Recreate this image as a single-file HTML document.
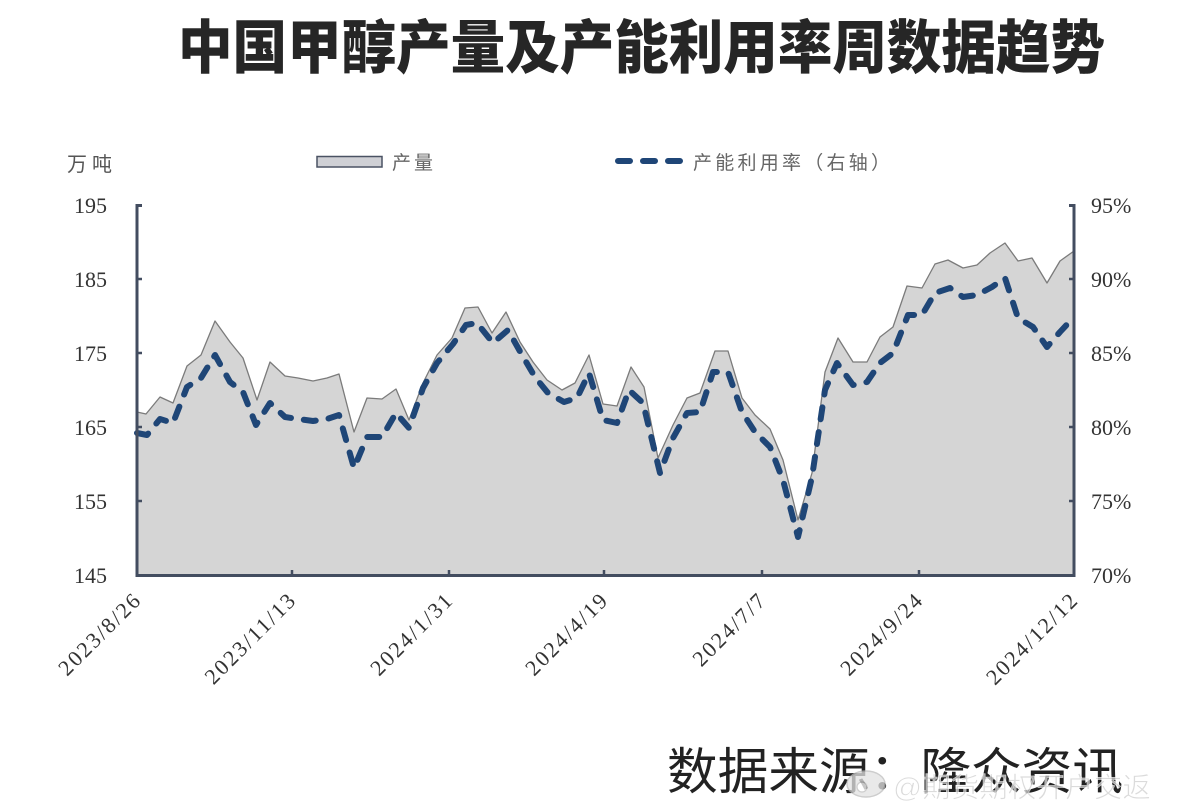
<!DOCTYPE html>
<html>
<head>
<meta charset="utf-8">
<style>
  html, body { margin: 0; padding: 0; background: #ffffff; }
  svg { display: block; }
  .cjk { font-family: "Liberation Sans", "Noto Sans CJK SC", sans-serif; }
  .num { font-family: "Liberation Serif", "Noto Serif CJK SC", serif; }
</style>
</head>
<body>
<svg width="1179" height="812" viewBox="0 0 1179 812" xmlns="http://www.w3.org/2000/svg">
  <rect x="0" y="0" width="1179" height="812" fill="#ffffff"/>

  <!-- Title -->
  <text x="178" y="68" class="cjk" font-size="58" font-weight="900" fill="#262626" textLength="927" lengthAdjust="spacingAndGlyphs">中国甲醇产量及产能利用率周数据趋势</text>

  <!-- Unit label -->
  <text x="67" y="171" class="cjk" font-size="20" fill="#555" textLength="45" lengthAdjust="spacing">万吨</text>

  <!-- Legend -->
  <rect x="317" y="156.5" width="65" height="10.5" fill="#cfd0d5" stroke="#4a5263" stroke-width="1.5"/>
  <text x="392" y="169" class="cjk" font-size="19" fill="#666" textLength="41" lengthAdjust="spacing">产量</text>
  <line x1="618" y1="161" x2="683" y2="161" stroke="#1f4677" stroke-width="6" stroke-linecap="round" stroke-dasharray="12 13"/>
  <text x="693" y="169" class="cjk" font-size="19" fill="#666" textLength="197" lengthAdjust="spacing">产能利用率（右轴）</text>

  <!-- Area series -->
  <path d="M137,575 L137,412 L146,414 L160,397 L173,403 L187,366 L201,355 L215,321 L230,342 L243,358 L257,400 L270,362 L285,376 L298,378 L313,381 L327,378 L339,374 L354,432 L367,398 L382,399 L396,389 L409,420 L423,383 L437,355 L452,338 L465,308 L478,307 L492,333 L506,312 L520,342 L533,362 L547,380 L562,390 L575,383 L589,355 L603,404 L617,406 L631,367 L644,387 L658,458 L673,425 L687,398 L700,393 L715,351 L728,351 L742,398 L755,415 L770,429 L783,460 L798,520 L812,473 L825,372 L838,338 L853,362 L867,362 L880,337 L893,327 L907,286 L922,288 L935,264 L948,260 L963,268 L977,265 L990,253 L1005,243 L1018,261 L1032,258 L1047,283 L1060,261 L1074,251 L1074,575 Z"
        fill="#d5d5d5" stroke="none"/>
  <polyline points="137,412 146,414 160,397 173,403 187,366 201,355 215,321 230,342 243,358 257,400 270,362 285,376 298,378 313,381 327,378 339,374 354,432 367,398 382,399 396,389 409,420 423,383 437,355 452,338 465,308 478,307 492,333 506,312 520,342 533,362 547,380 562,390 575,383 589,355 603,404 617,406 631,367 644,387 658,458 673,425 687,398 700,393 715,351 728,351 742,398 755,415 770,429 783,460 798,520 812,473 825,372 838,338 853,362 867,362 880,337 893,327 907,286 922,288 935,264 948,260 963,268 977,265 990,253 1005,243 1018,261 1032,258 1047,283 1060,261 1074,251"
        fill="none" stroke="#7b7b7b" stroke-width="1.3" stroke-linejoin="round"/>

  <!-- Dashed line series -->
  <polyline points="137,433 147,435 160,419 173,423 187,387 201,378 215,355 230,382 243,392 256,425 270,403 285,417 298,419 313,421 327,419 339,415 354,468 367,437 382,437 396,413 409,428 423,388 437,363 453,344 466,325 477,323 493,343 508,330 522,355 535,377 548,393 564,402 577,398 589,373 603,420 617,423 629,390 643,403 660,473 673,438 687,413 700,412 713,372 728,372 742,412 755,432 770,447 783,480 798,537 812,477 825,390 837,363 853,385 867,382 880,363 893,353 908,315 922,315 935,293 950,288 963,297 977,295 992,287 1005,278 1018,318 1033,327 1047,347 1060,332 1073,318"
        fill="none" stroke="#1f4677" stroke-width="6" stroke-linecap="round" stroke-linejoin="round" stroke-dasharray="12 13"/>

  <!-- Axes -->
  <g stroke="#434d60" stroke-width="3" fill="none">
    <line x1="137" y1="204" x2="137" y2="577"/>
    <line x1="1074" y1="204" x2="1074" y2="577"/>
    <line x1="135.5" y1="575.5" x2="1075.5" y2="575.5"/>
    <line x1="137" y1="205.5" x2="142" y2="205.5"/>
    <line x1="1074" y1="205.5" x2="1069" y2="205.5"/>
  </g>
  <g stroke="#434d60" stroke-width="2.5">
    <line x1="137" y1="279" x2="142" y2="279"/>
    <line x1="137" y1="353" x2="142" y2="353"/>
    <line x1="137" y1="427" x2="142" y2="427"/>
    <line x1="137" y1="501" x2="142" y2="501"/>
    <line x1="1074" y1="279" x2="1069" y2="279"/>
    <line x1="1074" y1="353" x2="1069" y2="353"/>
    <line x1="1074" y1="427" x2="1069" y2="427"/>
    <line x1="1074" y1="501" x2="1069" y2="501"/>
    <line x1="292" y1="575" x2="292" y2="570"/>
    <line x1="449" y1="575" x2="449" y2="570"/>
    <line x1="604" y1="575" x2="604" y2="570"/>
    <line x1="762" y1="575" x2="762" y2="570"/>
    <line x1="919" y1="575" x2="919" y2="570"/>
  </g>

  <!-- Left axis labels -->
  <g class="num" font-size="22" fill="#333" text-anchor="end">
    <text x="107" y="213">195</text>
    <text x="107" y="287">185</text>
    <text x="107" y="361">175</text>
    <text x="107" y="435">165</text>
    <text x="107" y="509">155</text>
    <text x="107" y="583">145</text>
  </g>

  <!-- Right axis labels -->
  <g class="num" font-size="22" fill="#333" text-anchor="start">
    <text x="1091" y="213">95%</text>
    <text x="1091" y="287">90%</text>
    <text x="1091" y="361">85%</text>
    <text x="1091" y="435">80%</text>
    <text x="1091" y="509">75%</text>
    <text x="1091" y="583">70%</text>
  </g>

  <!-- X axis labels -->
  <g class="num" font-size="22" fill="#333" text-anchor="end" letter-spacing="2">
    <text transform="translate(143,601) rotate(-45)">2023/8/26</text>
    <text transform="translate(298,601) rotate(-45)">2023/11/13</text>
    <text transform="translate(455,601) rotate(-45)">2024/1/31</text>
    <text transform="translate(610,601) rotate(-45)">2024/4/19</text>
    <text transform="translate(768,601) rotate(-45)">2024/7/7</text>
    <text transform="translate(925,601) rotate(-45)">2024/9/24</text>
    <text transform="translate(1080,601) rotate(-45)">2024/12/12</text>
  </g>

  <!-- Source -->
  <text x="667" y="789" class="cjk" font-size="50" fill="#222" textLength="456" lengthAdjust="spacingAndGlyphs">数据来源：隆众资讯</text>

  <!-- Watermark -->
  <g opacity="0.75">
    <ellipse cx="866" cy="784" rx="19" ry="13" fill="#e2e2e2" stroke="#bdbdbd" stroke-width="1.5"/>
    <circle cx="862" cy="787" r="5" fill="#ffffff" stroke="#bdbdbd" stroke-width="1.2"/>
    <text x="893" y="797" class="cjk" font-size="28" fill="#cfcfcf" stroke="#ffffff" stroke-width="0.8" textLength="258" lengthAdjust="spacingAndGlyphs">@期货期权开户交返</text>
  </g>
</svg>
</body>
</html>
